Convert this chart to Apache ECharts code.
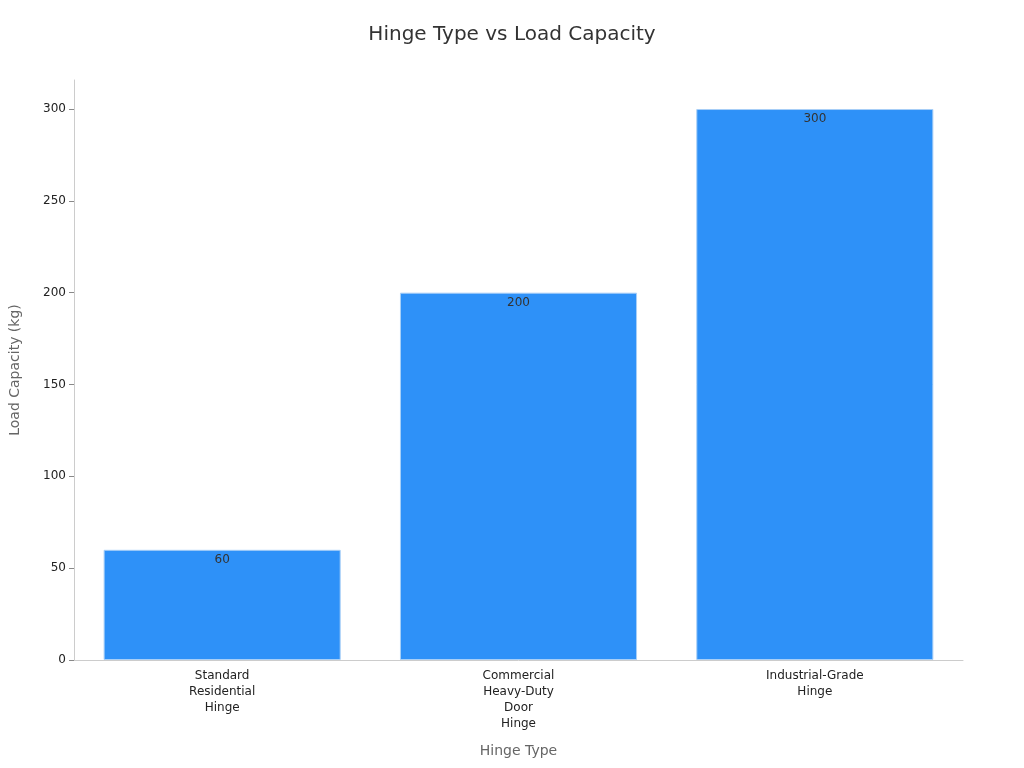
<!DOCTYPE html>
<html><head><meta charset="utf-8">
<script src="https://cdn.jsdelivr.net/npm/echarts@6/dist/echarts.min.js"></script>
<style>html,body{margin:0;padding:0;background:#fff}#c{width:1024px;height:768px}</style>
</head><body><div id="c"></div>
<script>
const categories = ["Standard\nResidential\nHinge", "Commercial\nHeavy-Duty\nDoor\nHinge", "Industrial-Grade\nHinge"];
const loadCapacity = [60, 200, 300];
const chart = echarts.init(document.getElementById('c'));
chart.setOption({
  backgroundColor: '#fff',
  textStyle: { fontFamily: 'DejaVu Sans' },
  title: { text: 'Hinge Type vs Load Capacity', left: 'center', top: 20,
    textStyle: { fontSize: 20, fontWeight: 'normal', color: '#333', fontFamily: 'DejaVu Sans' } },
  grid: { left: 68, right: 61, top: 80, bottom: 108 },
  xAxis: { type: 'category', data: categories, name: 'Hinge Type', nameLocation: 'middle', nameGap: 84,
    nameTextStyle: { fontSize: 14, color: '#666' },
    axisLine: { lineStyle: { color: '#ccc' } }, axisTick: { show: false },
    axisLabel: { color: '#222', fontSize: 12, interval: 0, lineHeight: 16 } },
  yAxis: { type: 'value', min: 0, max: 315.8, interval: 50, name: 'Load Capacity (kg)', nameLocation: 'middle', nameGap: 52,
    nameTextStyle: { fontSize: 14, color: '#666' },
    axisLine: { show: true, lineStyle: { color: '#ccc' } }, axisTick: { show: true, lineStyle: { color: '#888' } },
    splitLine: { show: false },
    axisLabel: { color: '#222', fontSize: 12, showMaxLabel: false } },
  series: [{ type: 'bar', data: loadCapacity, barWidth: '80%',
    itemStyle: { color: '#2E91F8', borderColor: '#A8CFF7', borderWidth: 1 },
    label: { show: true, position: 'insideTop', color: '#333', fontSize: 12, distance: 4 } }]
});
</script></body></html>
